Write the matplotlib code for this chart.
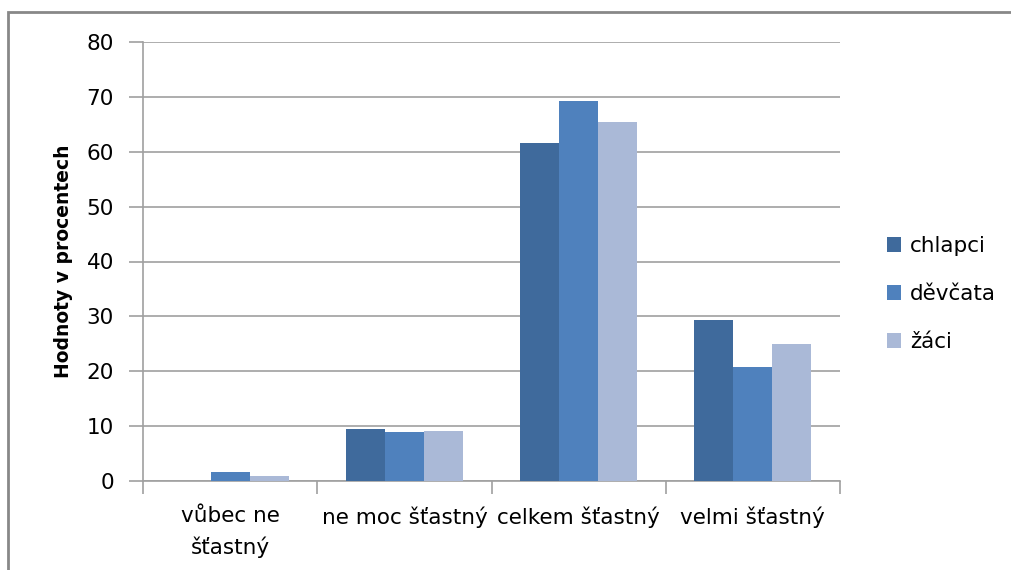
import matplotlib.pyplot as plt
import matplotlib.patches as mpatches
import numpy as np

categories = ['vůbec ne\nšťastný', 'ne moc šťastný', 'celkem šťastný', 'velmi šťastný']
series = ['chlapci', 'děvčata', 'žáci']
chlapci = [0.0, 9.4, 61.6, 29.3]
devcata = [1.6, 8.9, 69.2, 20.8]
zaci = [0.85, 9.2, 65.5, 25.0]
colors = ['#3F6A9C', '#4F81BD', '#AAB9D7']

W, H = 1011, 570
fig = plt.figure(figsize=(W / 100, H / 100), dpi=100)
ax = fig.add_axes([143 / W, (H - 481) / H, (840 - 143) / W, (481 - 42) / H])

x = np.arange(len(categories))
bw = 0.224
for i, (vals, name) in enumerate(zip([chlapci, devcata, zaci], series)):
    ax.bar(x + (i - 1) * bw, vals, bw, color=colors[i], label=name, zorder=3)

ax.set_xlim(-0.5, len(categories) - 0.5)
ax.set_ylim(0, 80)
ax.set_yticks(range(0, 81, 10))
ax.yaxis.grid(True, color='#A0A0A0', linewidth=1.2, zorder=0)
ax.tick_params(axis='y', length=10, color='#A0A0A0', width=1.2, labelsize=15.5, pad=11)

ax.set_xticks(np.arange(-0.5, len(categories), 1.0))
ax.set_xticks(x, minor=True)
ax.set_xticklabels([])
ax.set_xticklabels(categories, minor=True, fontsize=15.5)
ax.tick_params(axis='x', which='major', length=9, color='#A0A0A0', width=1.2)
ax.tick_params(axis='x', which='minor', length=0, pad=18)
for lbl in ax.get_xticklabels(minor=True):
    lbl.set_linespacing(1.6)

for s in ['top', 'right']:
    ax.spines[s].set_visible(False)
for s in ['left', 'bottom']:
    ax.spines[s].set_color('#A0A0A0')
    ax.spines[s].set_linewidth(1.2)

ax.set_ylabel('Hodnoty v procentech', fontsize=13.5, fontweight='bold', labelpad=10)

ax.legend(loc='center left', bbox_to_anchor=(868 / W, (H - 294) / H), bbox_transform=fig.transFigure,
          frameon=False, fontsize=15.5, handlelength=0.65, handleheight=0.65,
          handletextpad=0.4, labelspacing=1.3)

fig.patches.append(mpatches.Rectangle((8 / W, -0.1), 1.2, 1 - 12 / H + 0.1,
                                      transform=fig.transFigure, fill=False,
                                      edgecolor='#888888', linewidth=2))

fig.savefig('out.png', dpi=100)
